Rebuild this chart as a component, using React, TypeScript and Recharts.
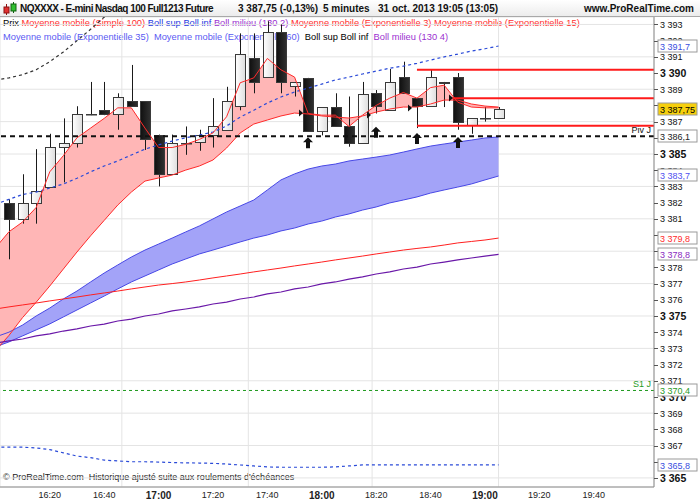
import React from "react";
import {
  ComposedChart,
  Bar,
  Line,
  Area,
  Scatter,
  XAxis,
  YAxis,
  CartesianGrid,
  ReferenceLine,
} from "recharts";

const FONT = "'Liberation Sans', Arial, sans-serif";

// 5-minute bars, first one (16:00) is only partly visible: indicators only
const times = [
  "16:00", "16:05", "16:10", "16:15", "16:20", "16:25", "16:30", "16:35", "16:40", "16:45",
  "16:50", "16:55", "17:00", "17:05", "17:10", "17:15", "17:20", "17:25", "17:30", "17:35",
  "17:40", "17:45", "17:50", "17:55", "18:00", "18:05", "18:10", "18:15", "18:20", "18:25",
  "18:30", "18:35", "18:40", "18:45", "18:50", "18:55", "19:00", "19:05",
];

const opens = [
  3382.0, 3381.0, 3382.0, 3382.95, 3385.45, 3385.7, 3387.45, 3387.7, 3387.45, 3388.25,
  3388.25, 3386.2, 3383.75, 3385.65, 3385.75, 3386.2, 3386.5, 3387.95, 3390.95, 3389.75,
  3392.55, 3389.2, 3389.7, 3386.45, 3387.9, 3386.7, 3385.7, 3388.75, 3387.7, 3389.75,
  3388.45, 3387.95, 3389.45, 3389.75, 3386.8, 3387.2, 3387.2,
];
const highs = [
  3382.2, 3383.75, 3385.3, 3386.25, 3387.2, 3387.95, 3389.45, 3389.45, 3388.75, 3390.5,
  3388.25, 3386.2, 3386.2, 3386.7, 3386.5, 3388.45, 3389.15, 3392.45, 3392.45, 3393.2,
  3393.0, 3389.45, 3389.7, 3387.9, 3388.75, 3388.55, 3389.45, 3388.95, 3390.25, 3390.7,
  3388.45, 3390.2, 3389.45, 3390.0, 3387.2, 3387.9, 3387.9,
];
const lows = [
  3378.5, 3380.7, 3380.7, 3382.9, 3383.25, 3385.4, 3387.4, 3387.4, 3386.5, 3387.95,
  3385.25, 3383.0, 3383.75, 3384.95, 3385.2, 3385.4, 3386.5, 3387.7, 3388.75, 3389.75,
  3388.75, 3388.55, 3386.45, 3386.15, 3386.75, 3385.45, 3385.7, 3387.5, 3387.7, 3388.75,
  3386.6, 3387.95, 3387.9, 3386.5, 3386.25, 3387.0, 3387.2,
];
const closes = [
  3381.0, 3382.0, 3382.7, 3385.45, 3385.7, 3387.45, 3387.45, 3387.45, 3388.5, 3387.95,
  3385.95, 3383.75, 3385.7, 3385.7, 3386.2, 3386.7, 3388.25, 3391.2, 3389.45, 3392.55,
  3389.45, 3389.45, 3386.45, 3387.9, 3386.75, 3385.7, 3388.7, 3387.95, 3389.45, 3388.75,
  3387.95, 3389.75, 3389.4, 3387.0, 3387.2, 3387.2, 3387.75,
];

const ema3 = [
  3379.2, 3380.2, 3380.8, 3381.7, 3383.9, 3384.9, 3386.0, 3386.6, 3387.2, 3387.85,
  3387.85, 3386.6, 3385.4, 3385.4, 3385.6, 3385.9, 3386.3, 3387.3, 3389.4, 3389.7,
  3390.9, 3390.2, 3389.75, 3387.5, 3387.4, 3387.4, 3386.7, 3387.4, 3388.0, 3388.45,
  3388.8, 3388.45, 3389.1, 3389.25, 3388.2, 3387.9, 3387.85, 3387.85,
];
const ema15 = [
  3372.85, 3373.8, 3374.9, 3375.85, 3376.85, 3377.9, 3378.95, 3379.95, 3380.9, 3381.85,
  3382.65, 3383.33, 3383.52, 3383.7, 3384.01, 3384.26, 3384.63, 3385.37, 3386.3, 3386.85,
  3387.1, 3387.35, 3387.53, 3387.47, 3387.35, 3387.28, 3387.22, 3387.35, 3387.59, 3387.78,
  3387.9, 3387.9, 3388.09, 3388.33, 3388.33, 3388.09, 3387.96, 3387.9,
];
const ema35 = [
  3373.7, 3374.0, 3374.44, 3375.0, 3375.49, 3376.05, 3376.54, 3377.1, 3377.65, 3378.15,
  3378.64, 3379.07, 3379.44, 3379.81, 3380.19, 3380.56, 3380.99, 3381.42, 3381.79, 3382.16,
  3382.78, 3383.4, 3383.77, 3384.07, 3384.26, 3384.38, 3384.57, 3384.69, 3384.81, 3384.94,
  3385.12, 3385.31, 3385.49, 3385.62, 3385.74, 3385.86, 3385.99, 3386.05,
];
const ema60 = [
  3373.09, 3373.4, 3373.77, 3374.14, 3374.51, 3374.94, 3375.37, 3375.8, 3376.23, 3376.67,
  3377.1, 3377.47, 3377.84, 3378.21, 3378.52, 3378.83, 3379.07, 3379.32, 3379.57, 3379.81,
  3380.0, 3380.25, 3380.43, 3380.68, 3380.86, 3381.11, 3381.3, 3381.54, 3381.73, 3381.98,
  3382.16, 3382.35, 3382.59, 3382.78, 3382.96, 3383.15, 3383.4, 3383.64,
];
const sma100 = [
  3375.43, 3375.56, 3375.68, 3375.8, 3375.93, 3376.05, 3376.17, 3376.3, 3376.42, 3376.54,
  3376.67, 3376.79, 3376.91, 3377.0, 3377.1, 3377.22, 3377.35, 3377.47, 3377.59, 3377.72,
  3377.84, 3377.96, 3378.09, 3378.21, 3378.33, 3378.46, 3378.58, 3378.7, 3378.83, 3378.95,
  3379.07, 3379.17, 3379.26, 3379.38, 3379.51, 3379.6, 3379.69, 3379.81,
];
const bollMid = [
  3373.33, 3373.46, 3373.58, 3373.77, 3373.89, 3374.07, 3374.2, 3374.38, 3374.5, 3374.69,
  3374.81, 3375.0, 3375.12, 3375.31, 3375.43, 3375.56, 3375.74, 3375.86, 3376.05, 3376.17,
  3376.36, 3376.48, 3376.67, 3376.79, 3376.98, 3377.1, 3377.28, 3377.41, 3377.59, 3377.72,
  3377.9, 3378.02, 3378.21, 3378.33, 3378.46, 3378.58, 3378.7, 3378.8,
];
const bollSup2 = [
  3381.9, 3382.2, 3382.5, 3382.65, 3382.9, 3383.15, 3383.5, 3383.9, 3384.26, 3384.57,
  3384.94, 3385.3, 3385.56, 3385.8, 3386.0, 3386.17, 3386.36, 3386.73, 3387.28, 3387.7,
  3388.15, 3388.52, 3388.83, 3389.07, 3389.32, 3389.57, 3389.75, 3389.94, 3390.12, 3390.3,
  3390.43, 3390.6, 3390.8, 3391.0, 3391.17, 3391.36, 3391.5, 3391.67,
];
const bollInf2 = [
  3366.9, 3366.9, 3366.9, 3366.85, 3366.75, 3366.55, 3366.35, 3366.25, 3366.1, 3366.05,
  3366.0, 3366.0, 3365.98, 3365.95, 3365.93, 3365.92, 3365.9, 3365.86, 3365.8, 3365.74,
  3365.68, 3365.66, 3365.66, 3365.66, 3365.66, 3365.68, 3365.74, 3365.8, 3365.8, 3365.8,
  3365.8, 3365.8, 3365.8, 3365.8, 3365.8, 3365.8, 3365.8, 3365.8,
];
const bollSup4 = [
  3389.57, 3389.7, 3389.9, 3390.2, 3390.7, 3391.3, 3392.0, 3392.7, 3393.45, 3394.1,
  3394.8, 3395.4, 3395.9, 3396.4, 3396.8, 3397.2, 3397.6, 3398.2, 3399.0, 3399.7,
  3400.3, 3400.9, 3401.3, 3401.7, 3402.0, 3402.3, 3402.6, 3402.9, 3403.1, 3403.3,
  3403.5, 3403.7, 3403.9, 3404.0, 3404.2, 3404.3, 3404.4, 3404.6,
];

// signal markers: bar index, arrow tip level, small triangle level
const signalBars = [22, 27, 30, 33];
const signalArrows = [3386.03, 3386.69, 3386.3, 3386.05];
const signalTriangles = [3387.53, 3387.41, 3387.84, 3388.46];

// horizontal red levels drawn from a bar index to the right edge
const levelValues = [3390.2, 3388.45, 3386.75];
const levelStarts = [30, 32.6, 30];

const pivot = 3386.1;
const s1 = 3370.4;

const xTicks = [3, 7, 11, 15, 19, 23, 27, 31, 35, 39, 43];
const xTickLabels = ["16:20", "16:40", "17:00", "17:20", "17:40", "18:00", "18:20", "18:40", "19:00", "19:20", "19:40"];
const xGrid = [8.3, 17.6, 26.7, 36];
const xDomain = [-0.66, 47.43];

const yTicks = [
  3365, 3366, 3367, 3368, 3369, 3370, 3371, 3372, 3373, 3374, 3375, 3376, 3377, 3378, 3379,
  3380, 3381, 3382, 3383, 3384, 3385, 3386, 3387, 3388, 3389, 3390, 3391, 3392, 3393,
];
const yDomain = [3364.44, 3393.46];

const tagValues = [3391.7, 3387.75, 3386.1, 3383.7, 3379.8, 3378.8, 3370.4, 3365.8];
const tagTexts = ["3 391,7", "3 387,75", "3 386,1", "3 383,7", "3 379,8", "3 378,8", "3 370,4", "3 365,8"];
const tagColors = ["#3a4ee0", "#000", "#222", "#5050f0", "#ff2a2a", "#8a2cc0", "#1f9a1f", "#3a4ee0"];

const legendLine1: [string, string][] = [
  ["Prix", "#000"],
  ["Moyenne mobile (Simple 100)", "#ff3030"],
  ["Boll sup Boll inf", "#2436e0"],
  ["Boll milieu (130 2)", "#9b30d0"],
  ["Moyenne mobile (Exponentielle 3)", "#ff3030"],
  ["Moyenne mobile (Exponentielle 15)", "#ff3030"],
];
const legendLine2: [string, string][] = [
  ["Moyenne mobile (Exponentielle 35)", "#5a5af2"],
  ["Moyenne mobile (Exponentielle 60)", "#5a5af2"],
  ["Boll sup Boll inf", "#000"],
  ["Boll milieu (130 4)", "#9b30d0"],
];

const rows = times.map((t, k) => {
  const c = k - 1;
  const has = c >= 0;
  return {
    i: c,
    time: t,
    open: has ? opens[c] : null,
    high: has ? highs[c] : null,
    low: has ? lows[c] : null,
    close: has ? closes[c] : null,
    ema3: ema3[k],
    ema15: ema15[k],
    ema35: ema35[k],
    ema60: ema60[k],
    sma100: sma100[k],
    bollMid: bollMid[k],
    bollSup2: bollSup2[k],
    bollInf2: bollInf2[k],
    bollSup4: bollSup4[k],
  };
});

const signals = signalBars.map((b, n) => ({ i: b, arrow: signalArrows[n], tri: signalTriangles[n] }));

// the right axis carries the integer ticks first, then the value tags (drawn last, on top)
const axisTicks = [...yTicks, ...tagValues];

const fmtInt = (v: number) => `${Math.floor(v / 1000)} ${String(v % 1000).padStart(3, "0")}`;

// integer labels that sit right under a value tag are hidden by it
const coveredByTag = (v: number) => tagValues.some((t) => Math.abs(t - v) <= 0.25);

const Candle = (props: any) => {
  const { x, y, width, height, payload } = props;
  if (payload == null || payload.open == null) return null;
  const { open, close, high, low } = payload;
  const cx = Math.round(x + width / 2) + 0.5;
  const span = high - low || 1;
  const py = (v: number) => y + ((high - v) / span) * height;
  const top = Math.round(py(Math.max(open, close))) + 0.5;
  const bot = Math.round(py(Math.min(open, close))) + 0.5;
  const up = close >= open;
  return (
    <g>
      <line x1={cx} x2={cx} y1={y} y2={y + height} stroke="#1a1a1a" strokeWidth={1} />
      <rect
        x={cx - 5}
        y={top}
        width={10}
        height={Math.max(bot - top, 0.5)}
        fill={up ? "url(#whiteBody)" : "url(#blackBody)"}
        stroke="#3a3a3a"
        strokeWidth={1}
      />
    </g>
  );
};

const UpArrow = (props: any) => {
  const { cx, cy } = props;
  const x = Math.round(cx);
  return <path d={`M${x},${cy} l5,5 h-3 v6 h-4 v-6 h-3 z`} fill="#111" />;
};

const SideTriangle = (props: any) => {
  const { cx, cy } = props;
  const x = Math.round(cx) - 9;
  return <path d={`M${x},${cy - 3.5} l4,3.5 l-4,3.5 z`} fill="#111" />;
};

const YTick = (props: any) => {
  const { x, y, payload } = props;
  const v = payload.value;
  const tag = tagValues.indexOf(v);
  const yy = Math.round(y) + 0.5;
  if (tag >= 0) {
    return (
      <g>
        <rect x={x - 1} y={yy - 6.5} width={39} height={12} fill={tag === 1 ? "#f6cf0c" : "#fff"} stroke="#9a9a9a" />
        <text x={x + 1} y={yy + 3.5} fontFamily={FONT} fontSize={9} fill={tagColors[tag]}>
          {tagTexts[tag]}
        </text>
      </g>
    );
  }
  const major = v % 5 === 0;
  return (
    <g>
      <line x1={x - 5} x2={x - 1} y1={yy} y2={yy} stroke="#555" />
      {!coveredByTag(v) && (
        <text
          x={x + 1}
          y={y}
          dy={major ? 4 : 3.5}
          fontFamily={FONT}
          fontSize={major ? 10.5 : 9}
          fontWeight={major ? "bold" : "normal"}
          fill="#111"
          textAnchor="start"
        >
          {fmtInt(v)}
        </text>
      )}
    </g>
  );
};

const XTick = (props: any) => {
  const { x, y, payload } = props;
  const label = xTickLabels[xTicks.indexOf(payload.value)] ?? "";
  const major = label.endsWith(":00");
  return (
    <text
      x={x}
      y={y}
      dy={major ? 9.5 : 9}
      textAnchor="middle"
      fontFamily={FONT}
      fontSize={major ? 10 : 9}
      fontWeight={major ? "bold" : "normal"}
      fill="#222"
    >
      {label}
    </text>
  );
};

const LineTag = (props: any) => {
  const { viewBox, text, color } = props;
  if (!viewBox) return null;
  return (
    <text
      x={viewBox.x + viewBox.width - 3}
      y={viewBox.y - 3}
      textAnchor="end"
      fontFamily={FONT}
      fontSize={9}
      fill={color}
    >
      {text}
    </text>
  );
};

const TitleIcon = () => (
  <svg width={16} height={14} style={{ position: "absolute", left: 2, top: 2 }}>
    <line x1={4.5} x2={4.5} y1={2} y2={13} stroke="#8a1010" />
    <rect x={2} y={5} width={5} height={6} fill="#e03030" stroke="#8a1010" />
    <line x1={11.5} x2={11.5} y1={0} y2={11} stroke="#106010" />
    <rect x={9} y={2} width={5} height={7} fill="#30c030" stroke="#106010" />
  </svg>
);

export default function App() {
  const titleText = { position: "absolute" as const, top: 0, lineHeight: "17px", fontSize: 10, fontWeight: "bold" as const, color: "#111", whiteSpace: "nowrap" as const };
  const legendStyle = { position: "absolute" as const, left: 3, fontSize: 9.3, lineHeight: "11px", whiteSpace: "pre" as const };
  return (
    <div style={{ position: "relative", width: 700, height: 500, background: "#fff", fontFamily: FONT, overflow: "hidden" }}>
      <style>{"body{margin:0}"}</style>

      <div style={{ ...legendStyle, top: 18 }}>
        {legendLine1.map(([t, c], n) => (
          <span key={n} style={{ color: c }}>{t}{n < legendLine1.length - 1 ? " " : ""}</span>
        ))}
      </div>
      <div style={{ ...legendStyle, top: 32 }}>
        {legendLine2.map(([t, c], n) => (
          <span key={n} style={{ color: c }}>{t}{n < legendLine2.length - 1 ? "  " : ""}</span>
        ))}
      </div>
      <div style={{ position: "absolute", left: 3, top: 472, fontSize: 9, lineHeight: "11px", color: "#222", whiteSpace: "nowrap" }}>
        © ProRealTime.com&nbsp; Historique ajusté suite aux roulements d'échéances
      </div>

      <div style={{ position: "absolute", left: 0, top: 0 }}>
        <ComposedChart width={700} height={500} data={rows} margin={{ top: 17, right: 0, bottom: 0, left: 0 }}>
          <defs>
            <linearGradient id="whiteBody" x1="0" y1="0" x2="1" y2="0">
              <stop offset="0%" stopColor="#ffffff" />
              <stop offset="100%" stopColor="#dedede" />
            </linearGradient>
            <linearGradient id="blackBody" x1="0" y1="0" x2="1" y2="0">
              <stop offset="0%" stopColor="#101010" />
              <stop offset="100%" stopColor="#303030" />
            </linearGradient>
          </defs>
          <CartesianGrid stroke="#e4e4e4" xAxisId="grid" yAxisId="grid" />
          <XAxis xAxisId="grid" type="number" dataKey="i" domain={xDomain} allowDataOverflow ticks={xGrid} hide />
          <YAxis yAxisId="grid" domain={yDomain} allowDataOverflow ticks={yTicks} hide />
          <XAxis
            type="number"
            dataKey="i"
            domain={xDomain}
            allowDataOverflow
            ticks={xTicks}
            interval={0}
            height={13}
            tickLine={false}
            tickSize={0}
            tick={<XTick />}
            axisLine={{ stroke: "#8c8c8c" }}
          />
          <YAxis
            orientation="right"
            domain={yDomain}
            allowDataOverflow
            ticks={axisTicks}
            interval={0}
            width={46}
            tickSize={4}
            tickMargin={1}
            tickLine={false}
            tick={<YTick />}
            axisLine={{ stroke: "#8c8c8c" }}
          />

          <Area
            dataKey={(d: any) => [d.ema60, d.ema35]}
            fill="#a3a3f8"
            fillOpacity={1}
            stroke="none"
            type="linear"
            isAnimationActive={false}
          />
          <Line dataKey="ema35" stroke="#4848e6" strokeWidth={1} dot={false} type="linear" isAnimationActive={false} />
          <Line dataKey="ema60" stroke="#4848e6" strokeWidth={1} dot={false} type="linear" isAnimationActive={false} />

          <Area
            dataKey={(d: any) => [d.ema15, d.ema3]}
            fill="#ffb6b6"
            fillOpacity={1}
            stroke="none"
            type="linear"
            isAnimationActive={false}
          />
          <Line dataKey="ema15" stroke="#ff2a2a" strokeWidth={1} dot={false} type="linear" isAnimationActive={false} />

          <Line dataKey="sma100" stroke="#ff2020" strokeWidth={1} dot={false} type="linear" isAnimationActive={false} />
          <Line dataKey="bollMid" stroke="#6a18a8" strokeWidth={1.2} dot={false} type="linear" isAnimationActive={false} />
          <Line dataKey="bollSup2" stroke="#2a4ad8" strokeWidth={1.2} strokeDasharray="3 3" dot={false} type="linear" isAnimationActive={false} />
          <Line dataKey="bollInf2" stroke="#2a4ad8" strokeWidth={1.2} strokeDasharray="3 3" dot={false} type="linear" isAnimationActive={false} />
          <Line dataKey="bollSup4" stroke="#333" strokeWidth={1.2} strokeDasharray="3 3" dot={false} type="linear" isAnimationActive={false} />

          <ReferenceLine
            y={pivot}
            stroke="#111"
            strokeWidth={2}
            strokeDasharray="5 4"
            label={<LineTag text="Piv J" color="#111" />}
          />
          <ReferenceLine
            y={s1}
            stroke="#1f9a1f"
            strokeWidth={1}
            strokeDasharray="3 3"
            label={<LineTag text="S1 J" color="#1f9a1f" />}
          />
          {levelValues.map((v, n) => (
            <ReferenceLine
              key={"lv" + n}
              segment={[
                { x: levelStarts[n], y: v },
                { x: xDomain[1], y: v },
              ]}
              stroke="#ff1a1a"
              strokeWidth={2}
            />
          ))}

          <Bar
            dataKey={(d: any) => (d.low == null ? null : [d.low, d.high])}
            barSize={10}
            shape={<Candle />}
            isAnimationActive={false}
          />
          <Line dataKey="ema3" stroke="#ff2a2a" strokeWidth={1} dot={false} type="linear" isAnimationActive={false} />

          <Scatter data={signals} dataKey="arrow" shape={<UpArrow />} isAnimationActive={false} />
          <Scatter data={signals} dataKey="tri" shape={<SideTriangle />} isAnimationActive={false} />
        </ComposedChart>
      </div>

      <div
        style={{
          position: "absolute",
          left: 0,
          top: 0,
          width: 700,
          height: 16,
          background: "linear-gradient(#ffffff, #ececec)",
          borderBottom: "1px solid #a8a8a8",
        }}
      >
        <TitleIcon />
        <span style={{ ...titleText, left: 20, letterSpacing: "-0.55px" }}>NQXXXX - E-mini Nasdaq 100 Full1213 Future</span>
        <span style={{ ...titleText, left: 238 }}>3 387,75 (-0,13%)</span>
        <span style={{ ...titleText, left: 323 }}>5 minutes</span>
        <span style={{ ...titleText, left: 378 }}>31 oct. 2013 19:05 (13:05)</span>
        <span style={{ ...titleText, right: 6 }}>www.ProRealTime.com</span>
      </div>
    </div>
  );
}
